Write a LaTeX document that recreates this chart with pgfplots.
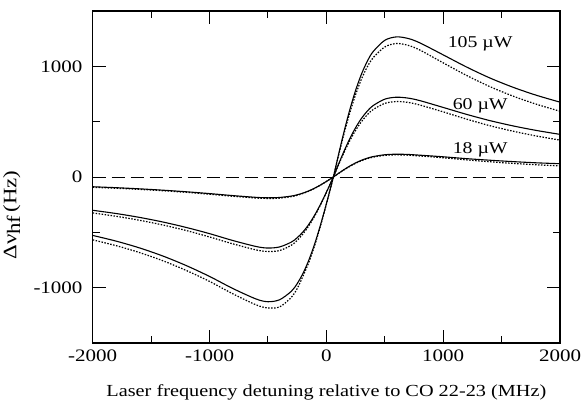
\documentclass[border=0pt]{standalone}
\usepackage{fontspec}
\setmainfont[FakeStretch=1.2]{Liberation Serif}
\usepackage{pgfplots}
\pgfplotsset{compat=1.18}
\begin{document}
\fontsize{17.5}{20}\selectfont
\begin{tikzpicture}
\begin{axis}[
  scale only axis,
  width=467.3pt, height=332pt,
  xmin=-2000, xmax=2000, ymin=-1500, ymax=1500,
  xtick={-2000,-1000,0,1000,2000},
  xticklabels={-2000,-1000,0,1000,2000},
  ytick={-1000,0,1000},
  yticklabels={-1000,0,1000},
  minor xtick={-1500,-500,500,1500},
  minor ytick={-500,500},
  tick align=inside,
  major tick length=13pt, minor tick length=7pt,
  every tick/.style={black, line width=0.9pt},
  axis line style={line width=1.1pt},
  xticklabel style={anchor=north, inner sep=0pt, yshift=-7pt},
  yticklabel style={anchor=east, inner sep=0pt, xshift=-10pt},
  xlabel={Laser frequency detuning relative to CO 22-23 (MHz)},
  ylabel={Δν\raisebox{-0.45ex}{hf}\,(Hz)},
  xlabel style={at={(ticklabel cs:0.5)}, anchor=north, inner sep=0pt, yshift=-22pt,
    font=\fontsize{16.9}{19}\selectfont},
  ylabel style={at={(ticklabel cs:0.385)}, anchor=south, inner sep=0pt, yshift=13pt,
    font=\fontsize{19}{22}\selectfont},
  clip=true,
]
\addplot[black, line width=0.8pt, dash pattern=on 13pt off 6pt] coordinates {(-2000,0) (2000,0)};
% 105 uW solid
\addplot[black, line width=1.1pt, smooth] coordinates {
(-2000,-528.0) (-1800,-579.2) (-1600,-640.6) (-1400,-713.8) (-1200,-800.0) (-1000,-898.4)
(-800,-1007.8) (-600,-1103.0) (-500,-1127) (-400,-1109.2) (-300,-1032.9) (-250,-964.2)
(-200,-870.9) (-150,-751.1) (-100,-604.5) (-50,-433.4) (0,-243.0) (60,0) (100,183.2)
(150,403.5) (200,605.3) (250,781.4) (300,928.1) (350,1044.6) (400,1132.4) (500,1235.1)
(600,1266) (700,1251.6) (800,1212.2) (1000,1103.7) (1200,993.8) (1400,894.7) (1600,810.0)
(1800,737.8) (2000,676.3)};
% 105 uW dotted
\addplot[black, line width=1.2pt, smooth, dash pattern=on 1.5pt off 1.5pt] coordinates {
(-2000,-568.0) (-1800,-620.2) (-1600,-682.6) (-1400,-756.8) (-1200,-844.0) (-1000,-943.4)
(-800,-1055.8) (-600,-1156.0) (-500,-1183) (-400,-1174.2) (-300,-1087.9) (-250,-1009.2)
(-200,-895.9) (-150,-771.1) (-100,-618.5) (-50,-441.4) (0,-247) (60,0) (100,175.2)
(150,385.5) (200,577.3) (250,743.4) (300,883.1) (350,994.6) (400,1077.4) (500,1175.1)
(600,1206) (700,1189.6) (800,1147.2) (1000,1031.7) (1200,917.8) (1400,816.7) (1600,730)
(1800,656.8) (2000,594.3)};
% 60 uW solid
\addplot[black, line width=1.1pt, smooth] coordinates {
(-2000,-300.8) (-1800,-329.9) (-1600,-364.9) (-1400,-406.6) (-1200,-455.7) (-1000,-511.8)
(-800,-574.1) (-600,-628.3) (-500,-642) (-400,-631.9) (-300,-588.4) (-250,-549.2)
(-200,-496.1) (-150,-427.9) (-100,-344.4) (-50,-246.9) (0,-138.4) (60,0) (100,104.3)
(150,229.8) (200,344.7) (250,445.0) (300,528.6) (350,594.9) (400,644.9) (500,703.4)
(600,721) (700,712.8) (800,690.4) (1000,628.6) (1200,566.0) (1400,509.5) (1600,461.3)
(1800,420.2) (2000,385.2)};
% 60 uW dotted
\addplot[black, line width=1.2pt, smooth, dash pattern=on 1.5pt off 1.5pt] coordinates {
(-2000,-324.8) (-1800,-354.9) (-1600,-390.9) (-1400,-433.6) (-1200,-483.7) (-1000,-541.8)
(-800,-604.1) (-600,-659.3) (-500,-673) (-400,-664.9) (-300,-616.4) (-250,-573.2)
(-200,-514.1) (-150,-440.9) (-100,-353.4) (-50,-251.9) (0,-140.4) (60,0) (100,99.3)
(150,218.8) (200,326.7) (250,421.0) (300,499.6) (350,561.9) (400,608.9) (500,665.4)
(600,682) (700,673.8) (800,650.4) (1000,588.6) (1200,523.0) (1400,463.5) (1600,413.3)
(1800,370.2) (2000,333.2)};
% 18 uW solid
\addplot[black, line width=1.1pt, smooth] coordinates {
(-2000,-88.1) (-1800,-96.6) (-1600,-106.9) (-1400,-119.1) (-1200,-133.4) (-1000,-149.9)
(-800,-168.1) (-600,-184.0) (-500,-188) (-400,-185.0) (-300,-172.3) (-250,-160.8)
(-200,-145.3) (-150,-125.3) (-100,-100.8) (-50,-72.3) (0,-40.5) (60,0) (100,29.8)
(150,65.7) (200,98.5) (250,127.1) (300,151.0) (350,170.0) (400,184.3) (500,201.0)
(600,206) (700,203.7) (800,197.2) (1000,182.6) (1200,165.7) (1400,151.6) (1600,138.8)
(1800,128.1) (2000,120.0)};
% 18 uW dotted
\addplot[black, line width=1.2pt, smooth, dash pattern=on 1.5pt off 1.5pt] coordinates {
(-2000,-93.1) (-1800,-101.6) (-1600,-112.0) (-1400,-124.2) (-1200,-138.6) (-1000,-155.9)
(-800,-174.1) (-600,-190.0) (-500,-194) (-400,-191.0) (-300,-177.3) (-250,-165.3)
(-200,-148.3) (-150,-127.8) (-100,-102.8) (-50,-73.3) (0,-40.5) (60,0) (100,28.8)
(150,63.7) (200,95.5) (250,123.6) (300,147.0) (350,165.5) (400,179.3) (500,195.5)
(600,200) (700,197.2) (800,190.2) (1000,173.6) (1200,154.7) (1400,137.6) (1600,122.8)
(1800,110.1) (2000,100.0)};
\node[font=\fontsize{16.5}{19}\selectfont] at (axis cs:1317,1206) {105 µW};
\node[font=\fontsize{16.5}{19}\selectfont] at (axis cs:1317,645) {60 µW};
\node[font=\fontsize{16.5}{19}\selectfont] at (axis cs:1317,245) {18 µW};
\end{axis}
\path (current axis.south west) ++(-92.7pt,-58pt) coordinate (bbA);
\path (current axis.north east) ++(21pt,11pt) coordinate (bbB);
\pgfresetboundingbox
\path (bbA) rectangle (bbB);
\end{tikzpicture}
\end{document}
